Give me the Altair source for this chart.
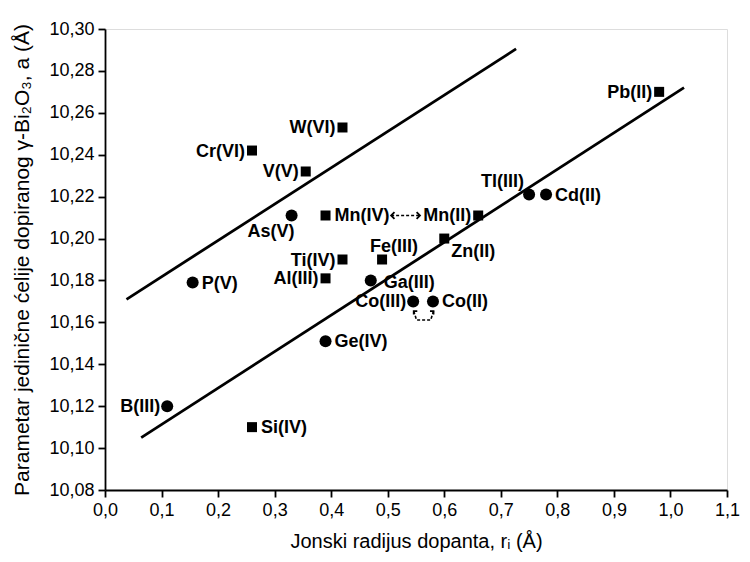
import altair as alt
import pandas as pd

# ---- data ----
names = ["Cr(VI)", "W(VI)", "V(V)", "Mn(IV)", "As(V)", "P(V)", "Ti(IV)", "Al(III)",
         "Fe(III)", "Mn(II)", "Zn(II)", "Ga(III)", "Co(III)", "Co(II)", "Tl(III)",
         "Cd(II)", "Pb(II)", "B(III)", "Si(IV)", "Ge(IV)"]
radius = [0.26, 0.42, 0.355, 0.39, 0.33, 0.155, 0.42, 0.39,
          0.49, 0.66, 0.60, 0.47, 0.545, 0.58, 0.75,
          0.78, 0.98, 0.11, 0.26, 0.39]
lattice = [10.242, 10.253, 10.232, 10.211, 10.211, 10.179, 10.190, 10.181,
           10.190, 10.211, 10.200, 10.180, 10.170, 10.170, 10.221,
           10.221, 10.270, 10.120, 10.110, 10.151]
marker = ["square", "square", "square", "square", "circle", "circle", "square", "square",
          "square", "square", "square", "circle", "circle", "circle", "circle",
          "circle", "square", "circle", "square", "circle"]

# label placement groups
left_labels = ["Cr(VI)", "W(VI)", "V(V)", "Mn(II)", "Ti(IV)", "Al(III)", "Co(III)", "Pb(II)", "B(III)"]
right_labels = ["P(V)", "Mn(IV)", "Co(II)", "Cd(II)", "Si(IV)", "Ge(IV)"]

# fitted lines (end points)
line_id = ["upper", "upper", "lower", "lower"]
line_x = [0.038, 0.727, 0.064, 1.024]
line_y = [10.171, 10.2905, 10.105, 10.272]

# annotation arrows
mn_arrow_x = [0.506, 0.557]
mn_arrow_y = [10.211, 10.211]
co_arrow_x = [0.546, 0.551, 0.576, 0.581]
co_arrow_y = [10.1654, 10.1611, 10.1611, 10.1654]

df = pd.DataFrame({"name": names, "r": radius, "a": lattice, "marker": marker})
lines = pd.DataFrame({"id": line_id, "r": line_x, "a": line_y})
mn = pd.DataFrame({"r": mn_arrow_x, "a": mn_arrow_y, "side": ["l", "r"]})
co = pd.DataFrame({"r": co_arrow_x, "a": co_arrow_y, "o": [0, 1, 2, 3]})

FONT = "Liberation Sans"

xs = alt.Scale(domain=[0, 1.1], nice=False, zero=False)
ys = alt.Scale(domain=[10.08, 10.30], nice=False, zero=False)

x_vals = [round(i * 0.05, 2) for i in range(23)]
y_vals = [round(10.08 + i * 0.01, 2) for i in range(23)]

x_axis = alt.Axis(
    values=x_vals,
    labelExpr="round(datum.value*100) % 10 === 0 ? replace(format(datum.value, '.1f'), '.', ',') : ''",
    title="Jonski radijus dopanta, rᵢ (Å)",
    grid=False, domainColor="black", domainWidth=1.8, tickColor="black", tickWidth=1.8,
    tickSize={"condition": {"test": "round(datum.value*100) % 10 === 0", "value": 7}, "value": 4},
    labelFont=FONT, labelFontSize=18, labelColor="black", labelPadding=4,
    titleFont=FONT, titleFontSize=20, titleFontWeight="normal", titleColor="black", titlePadding=12,
    labelFlush=False, labelOverlap=False,
)
y_axis = alt.Axis(
    values=y_vals,
    labelExpr="round(datum.value*100) % 2 === 0 ? replace(format(datum.value, '.2f'), '.', ',') : ''",
    title="Parametar jedinične ćelije dopiranog γ-Bi₂O₃, a (Å)",
    grid=False, domainColor="black", domainWidth=1.8, tickColor="black", tickWidth=1.8,
    tickSize={"condition": {"test": "round(datum.value*100) % 2 === 0", "value": 7}, "value": 4},
    labelFont=FONT, labelFontSize=18, labelColor="black", labelPadding=4,
    titleFont=FONT, titleFontSize=21, titleFontWeight="normal", titleColor="black", titlePadding=16,
    labelFlush=False, labelOverlap=False,
)

X = alt.X("r:Q", scale=xs, axis=x_axis)
Y = alt.Y("a:Q", scale=ys, axis=y_axis)

base = alt.Chart(df)

squares = base.transform_filter(alt.datum.marker == "square").mark_point(
    shape="square", filled=True, color="black", size=100, opacity=1
).encode(x=X, y=Y)

circles = base.transform_filter(alt.datum.marker == "circle").mark_point(
    shape="circle", filled=True, color="black", size=145, opacity=1
).encode(x=alt.X("r:Q", scale=xs), y=alt.Y("a:Q", scale=ys))

def label_layer(filter_expr, align, dx, dy):
    return base.transform_filter(filter_expr).mark_text(
        align=align, baseline="middle", dx=dx, dy=dy,
        font=FONT, fontSize=18, fontWeight="bold", color="black"
    ).encode(x=alt.X("r:Q", scale=xs), y=alt.Y("a:Q", scale=ys), text="name:N")

lab_left = label_layer(alt.FieldOneOfPredicate(field="name", oneOf=left_labels), "right", -7, 1)
lab_right = label_layer(alt.FieldOneOfPredicate(field="name", oneOf=right_labels), "left", 9, 1)
lab_as = label_layer(alt.datum.name == "As(V)", "right", 3, 17)
lab_fe = label_layer(alt.datum.name == "Fe(III)", "left", -12, -13)
lab_zn = label_layer(alt.datum.name == "Zn(II)", "left", 7, 13)
lab_ga = label_layer(alt.datum.name == "Ga(III)", "left", 13, 3)
lab_tl = label_layer(alt.datum.name == "Tl(III)", "right", -5, -13)

fit = alt.Chart(lines).mark_line(color="black", strokeWidth=2.8).encode(
    x=alt.X("r:Q", scale=xs), y=alt.Y("a:Q", scale=ys), detail="id:N"
)

mn_line = alt.Chart(mn).mark_line(color="black", strokeWidth=1.6, strokeDash=[3, 2]).encode(
    x=alt.X("r:Q", scale=xs), y=alt.Y("a:Q", scale=ys)
)
mn_left = alt.Chart(mn).transform_filter(alt.datum.side == "l").mark_point(
    shape="M1,-1L0,0L1,1", filled=False, color="black", strokeWidth=1.8, size=45, opacity=1
).encode(x=alt.X("r:Q", scale=xs), y=alt.Y("a:Q", scale=ys))
mn_right = alt.Chart(mn).transform_filter(alt.datum.side == "r").mark_point(
    shape="M-1,-1L0,0L-1,1", filled=False, color="black", strokeWidth=1.8, size=45, opacity=1
).encode(x=alt.X("r:Q", scale=xs), y=alt.Y("a:Q", scale=ys))

co_line = alt.Chart(co).mark_line(color="black", strokeWidth=1.6, strokeDash=[3, 2]).encode(
    x=alt.X("r:Q", scale=xs), y=alt.Y("a:Q", scale=ys), order="o:O"
)
co_left = alt.Chart(co).transform_filter(alt.datum.o == 0).mark_point(
    shape="M0,1.2L0,0L1.2,0", filled=False, color="black", strokeWidth=1.8, size=35, opacity=1
).encode(x=alt.X("r:Q", scale=xs), y=alt.Y("a:Q", scale=ys))
co_right = alt.Chart(co).transform_filter(alt.datum.o == 3).mark_point(
    shape="M0,1.2L0,0L-1.2,0", filled=False, color="black", strokeWidth=1.8, size=35, opacity=1
).encode(x=alt.X("r:Q", scale=xs), y=alt.Y("a:Q", scale=ys))

chart = alt.layer(
    squares, circles, fit, lab_left, lab_right, lab_as, lab_fe, lab_zn, lab_ga, lab_tl,
    mn_line, mn_left, mn_right, co_line, co_left, co_right
).properties(
    width=622, height=461,
    autosize=alt.AutoSizeParams(type="none"),
    padding={"left": 97, "top": 21, "right": 15, "bottom": 64},
).configure_view(stroke=None).configure(background="white")

chart.save("out.html", embed_options={"renderer": "svg", "actions": False})
